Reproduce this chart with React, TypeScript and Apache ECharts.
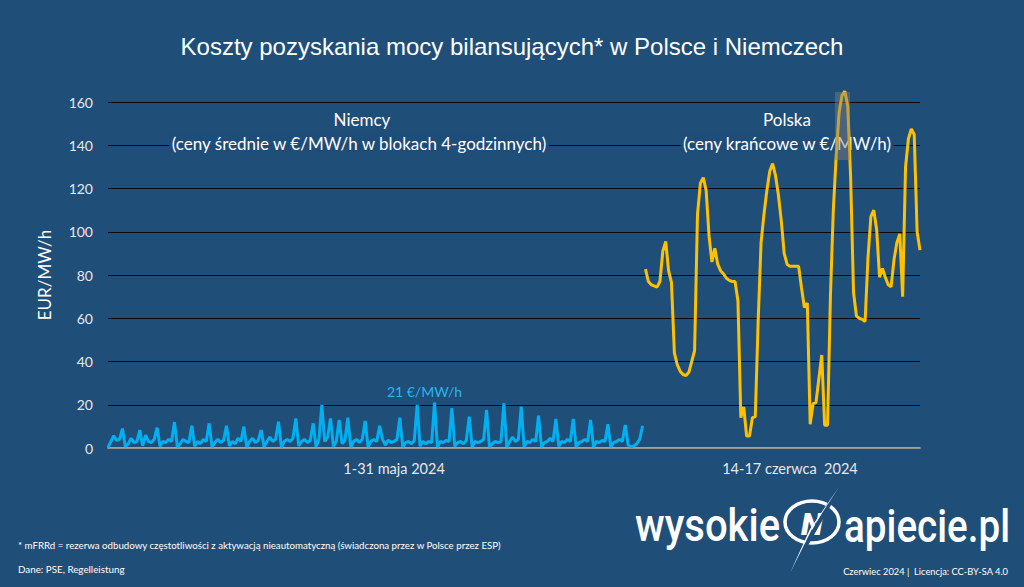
import React, { useEffect, useRef } from "react";
import * as echarts from "echarts";

// Niemcy, 1-31 maja 2024: 4-godzinne bloki (6 na dzień), €/MW/h
const niemcyMaj: number[] = [
  0.3, 3, 5.7, 3.5, 4, 9,
  0.6, 2, 4.5, 2.5, 3, 8.3,
  1, 6, 3, 2.5, 4, 9.4,
  0.8, 3, 2.5, 4, 3, 12,
  0.5, 2, 4, 3, 2.5, 10.3,
  0.8, 3, 2, 4, 3, 11.4,
  0.5, 2.5, 4, 2.5, 3.5, 10.3,
  1, 3, 2, 4.5, 3, 9.9,
  0.5, 3, 4.5, 2.5, 3.5, 8.3,
  0.6, 3, 5, 3, 4, 12.2,
  0.5, 3, 4, 3, 4.5, 13.7,
  1, 3, 4, 2.5, 3.5, 11.4,
  0.5, 4, 19.9, 3, 5, 13.7,
  0.8, 3, 13, 2, 3.5, 14,
  0.5, 3, 4, 2.5, 4, 12.5,
  0.5, 3, 4, 3, 10.3, 4,
  1.4, 3.7, 2.5, 3, 4, 14,
  0.5, 2.5, 3, 2, 3.5, 19.9,
  0.8, 3, 2, 3, 2.5, 21,
  0.5, 3, 2.5, 3.5, 3, 18.4,
  0.8, 2.5, 3, 2, 3.5, 14.5,
  0.5, 3, 2.5, 3, 4, 17.6,
  0.5, 2, 3, 2.5, 3, 20.7,
  0.5, 3, 5, 3, 4, 19.1,
  0.5, 3, 2.5, 4, 3, 15,
  0.5, 2.5, 3, 4.5, 3, 13.4,
  0.8, 3, 2.5, 4, 3, 13.4,
  0.5, 2.5, 3, 4, 3, 13,
  0.5, 3, 2.5, 3.5, 3, 11,
  0.5, 2.5, 3, 4, 3, 10.6,
  1.4, 0.6, 1, 2, 4, 10.3,
];

// Polska, 14-17 czerwca 2024: ceny godzinowe (24 na dzień), €/MW/h
const polskaCzerwiec: number[] = [
  82.7, 77, 75.5, 75, 74.4, 77, 91, 95.5, 82, 76.5,
  44, 38.5, 35.5, 34, 33.5, 35, 40, 45, 108, 122.5,
  125, 119, 98, 86, 92.4, 85, 82, 80.5, 78.5, 77.5,
  77, 77, 68, 14, 19, 5.5, 5.5, 14, 14.5, 59,
  95, 108, 119, 128, 131.5, 126, 117, 105, 90, 85,
  84, 84, 84, 84, 74, 65, 67, 11, 20.5, 21,
  32, 43, 10.5, 10.5, 70, 110, 135, 155, 163, 165,
  158, 125, 72, 61, 60, 59.5, 58.5, 88, 107, 110,
  101, 79, 83, 79, 75.5, 74.5, 87, 95, 99, 70,
  130, 143, 147.5, 145, 100, 91.5,
];

const blockHours = ["00-04", "04-08", "08-12", "12-16", "16-20", "20-24"];
const groupLabels = ["1-31 maja 2024", "14-17 czerwca  2024"];
const groupLabelIndex = [99, 236];
const yMin = 0;
const yMax = 160;
const yInterval = 20;

const categories: string[] = [
  ...niemcyMaj.map((_, i) => `${Math.floor(i / 6) + 1} maja ${blockHours[i % 6]}`),
  ...polskaCzerwiec.map((_, i) => `${14 + Math.floor(i / 24)} czerwca ${i % 24}:00`),
];

const BG = "#1f4e79";
const BLUE = "#00b0f0";
const YELLOW = "#ffc000";
const FONT = "Lato";

export default function App() {
  const ref = useRef<HTMLDivElement>(null);

  useEffect(() => {
    if (!ref.current) return;
    const chart = echarts.init(ref.current, undefined, { renderer: "svg" });
    const n0 = niemcyMaj.length;

    const annot = (text: string, x: number, y: number, bg: boolean) => ({
      type: "text",
      x,
      y,
      z: 1,
      style: {
        text,
        fill: "#ffffff",
        font: `17px ${FONT}`,
        align: "center",
        verticalAlign: "middle",
        backgroundColor: bg ? "rgba(31,78,121,0.9)" : undefined,
        padding: bg ? [1, 2] : undefined,
      },
    });

    const option: any = {
      animation: false,
      backgroundColor: BG,
      title: {
        text: "Koszty pozyskania mocy bilansujących* w Polsce i Niemczech",
        left: "center",
        top: 29,
        textStyle: {
          fontFamily: "Liberation Sans",
          fontSize: 24,
          fontWeight: "normal",
          color: "#ffffff",
        },
      },
      grid: { left: 108, right: 104, top: 102, bottom: 139 },
      xAxis: {
        type: "category",
        data: categories,
        boundaryGap: false,
        axisLine: { show: true, lineStyle: { color: "#bfbfbf", width: 1.5 } },
        axisTick: { show: false },
        splitLine: { show: false },
        axisLabel: {
          interval: (i: number) => groupLabelIndex.includes(i),
          formatter: (_v: string, i: number) => {
            const k = groupLabelIndex.indexOf(i);
            return k >= 0 ? groupLabels[k] : "";
          },
          color: "#e8e8e8",
          fontFamily: FONT,
          fontSize: 14.5,
          margin: 13,
        },
      },
      yAxis: {
        type: "value",
        min: yMin,
        max: yMax,
        interval: yInterval,
        name: "EUR/MW/h",
        nameLocation: "middle",
        nameGap: 55,
        nameRotate: 90,
        nameTextStyle: { color: "#ffffff", fontFamily: FONT, fontSize: 17 },
        axisLine: { show: false },
        axisTick: { show: false },
        axisLabel: { color: "#e8e8e8", fontFamily: FONT, fontSize: 14, margin: 15 },
        splitLine: { show: true, lineStyle: { color: "rgba(0,0,0,0.85)", width: 1 } },
      },
      series: [
        {
          name: "Niemcy",
          type: "line",
          data: niemcyMaj.map((v, i) => [i, v]),
          showSymbol: false,
          symbol: "none",
          lineStyle: { color: BLUE, width: 3 },
          itemStyle: { color: BLUE },
          z: 5,
          markPoint: {
            symbol: "circle",
            symbolSize: 0,
            data: [{ type: "max" }],
            label: {
              show: true,
              position: "top",
              distance: 4,
              offset: [-10, 0],
              formatter: (p: any) => `${p.value} €/MW/h`,
              color: "#29b5ee",
              fontFamily: FONT,
              fontSize: 14,
            },
          },
        },
        {
          name: "Polska",
          type: "line",
          data: polskaCzerwiec.map((v, i) => [n0 + i, v]),
          showSymbol: false,
          symbol: "none",
          clip: false,
          lineStyle: { color: YELLOW, width: 3 },
          itemStyle: { color: YELLOW },
          z: 5,
          markPoint: {
            symbol: "circle",
            symbolSize: 0,
            data: [{ type: "max" }],
            label: {
              show: true,
              position: "top",
              distance: 7,
              offset: [-3, 0],
              formatter: (p: any) => `${p.value} €/MW/h`,
              color: YELLOW,
              fontFamily: FONT,
              fontSize: 15,
            },
          },
        },
      ],
      graphic: [
        annot("Niemcy", 362, 119, false),
        annot("(ceny średnie w €/MW/h w blokach 4-godzinnych)", 359, 143, true),
        annot("Polska", 787, 119, false),
        annot("(ceny krańcowe w €/MW/h)", 787, 143, true),
        {
          type: "rect",
          z: 10,
          shape: { x: 835, y: 92, width: 15, height: 68 },
          style: { fill: "rgba(128,128,128,0.45)" },
        },
        {
          type: "text",
          x: 18,
          y: 545,
          style: {
            text: "* mFRRd = rezerwa odbudowy częstotliwości z aktywacją nieautomatyczną (świadczona przez w Polsce przez ESP)",
            fill: "#ffffff",
            font: `9.7px ${FONT}`,
            verticalAlign: "middle",
          },
        },
        {
          type: "text",
          x: 18,
          y: 569,
          style: { text: "Dane: PSE, Regelleistung", fill: "#ffffff", font: `9.8px ${FONT}`, verticalAlign: "middle" },
        },
        {
          type: "text",
          x: 1008,
          y: 571,
          style: {
            text: "Czerwiec 2024 |  Licencja: CC-BY-SA 4.0",
            fill: "#ffffff",
            font: `9.3px ${FONT}`,
            align: "right",
            verticalAlign: "middle",
          },
        },
        // logo
        {
          type: "text",
          x: 635,
          y: 526,
          scaleX: 0.87,
          style: { text: "wysokie", fill: "#ffffff", font: `500 46px Roboto`, verticalAlign: "middle" },
        },
        {
          type: "text",
          x: 844,
          y: 526,
          scaleX: 0.84,
          style: { text: "apiecie.pl", fill: "#ffffff", font: `500 46px Roboto`, verticalAlign: "middle" },
        },
        {
          type: "ellipse",
          shape: { cx: 812, cy: 522, rx: 27, ry: 21 },
          style: { fill: "none", stroke: "#ffffff", lineWidth: 3.5 },
        },
        {
          type: "text",
          x: 812,
          y: 524,
          style: {
            text: "N",
            fill: "#ffffff",
            font: `italic 900 32px Roboto`,
            align: "center",
            verticalAlign: "middle",
          },
        },
        {
          type: "line",
          shape: { x1: 839, y1: 487, x2: 790, y2: 573 },
          style: { stroke: BG, lineWidth: 4 },
        },
        {
          type: "polygon",
          shape: { points: [[839, 487], [813, 527], [790, 573], [810, 529]] },
          style: { fill: "#ffffff" },
        },
      ],
    };

    chart.setOption(option);
    return () => chart.dispose();
  }, []);

  return (
    <div
      ref={ref}
      style={{ position: "fixed", left: 0, top: 0, width: 1024, height: 587 }}
    />
  );
}
